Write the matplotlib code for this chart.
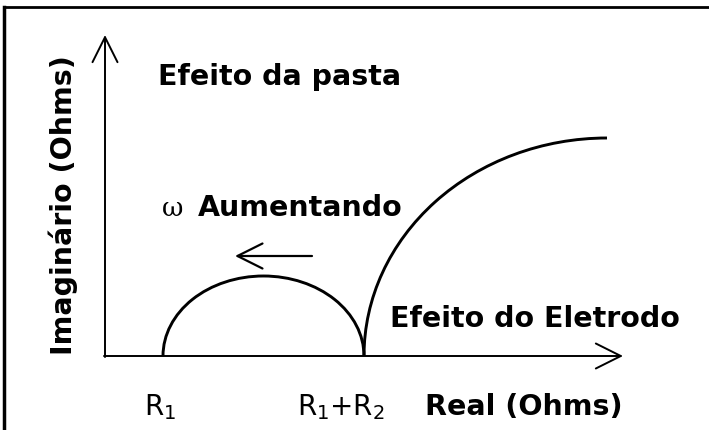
import matplotlib.pyplot as plt
from matplotlib.patches import Arc

# Nyquist sketch, units are arbitrary (1 unit ~ 1 px on the figure)
r1 = 58            # solution resistance R1
r2 = 201           # paste resistance R2
paste_peak = 80    # top of the paste semicircle
electrode_end = 502   # real part where the electrode arc flattens out
electrode_peak = 218  # imaginary part at that point

x_axis_end = 518
y_axis_end = 321

tick_labels = ['R$_1$', 'R$_1$+R$_2$']
tick_pos = [r1, r1 + r2]
label_shift = [-3, -23]

fig = plt.figure(figsize=(7.09, 4.30), dpi=100)
ax = fig.add_axes([0, 0, 1, 1])
ax.set_xlim(-105, 604)
ax.set_ylim(-74, 356)
ax.axis('off')

# frame on top and left
ax.plot([-101, 604], [349, 349], color='black', lw=2, clip_on=False)
ax.plot([-101, -101], [-74, 349], color='black', lw=2.5, clip_on=False)

# axes drawn as open arrows
arrow = dict(arrowstyle='->,head_length=1.0,head_width=0.5', color='black',
             lw=1.4, mutation_scale=18, shrinkA=0, shrinkB=0)
ax.annotate('', xy=(x_axis_end, 0), xytext=(-1, 0), arrowprops=arrow)
ax.annotate('', xy=(0, y_axis_end), xytext=(0, -1), arrowprops=arrow)

# paste semicircle
ax.add_patch(Arc((r1 + r2 / 2, 0), r2, 2 * paste_peak, theta1=0, theta2=180,
                 color='black', lw=2.1))
# electrode arc, a quarter ellipse rising from R1+R2
a = electrode_end - (r1 + r2)
ax.add_patch(Arc((electrode_end, 0), 2 * a, 2 * electrode_peak, theta1=90, theta2=180,
                 color='black', lw=2.1))

# frequency arrow
ax.annotate('', xy=(130, 100), xytext=(207, 100), arrowprops=dict(arrow, lw=1.6))

bold = dict(fontsize=20.5, fontweight='bold', color='black')
ax.text(53, 271, 'Efeito da pasta', ha='left', va='baseline', **bold)
ax.text(57, 140, 'ω', ha='left', va='baseline', fontsize=19, family='DejaVu Serif')
ax.text(93, 140, 'Aumentando', ha='left', va='baseline', **bold)
ax.text(285, 29, 'Efeito do Eletrodo', ha='left', va='baseline', **bold)
ax.text(320, -59, 'Real (Ohms)', ha='left', va='baseline', **bold)
ax.text(-33, 1, 'Imaginário (Ohms)', ha='left', va='baseline', rotation=90,
        rotation_mode='anchor', **bold)

for pos, shift, lab in zip(tick_pos, label_shift, tick_labels):
    ax.text(pos + shift, -59, lab, ha='center', va='baseline', fontsize=20, color='black')

fig.savefig('out.png', dpi=100)
